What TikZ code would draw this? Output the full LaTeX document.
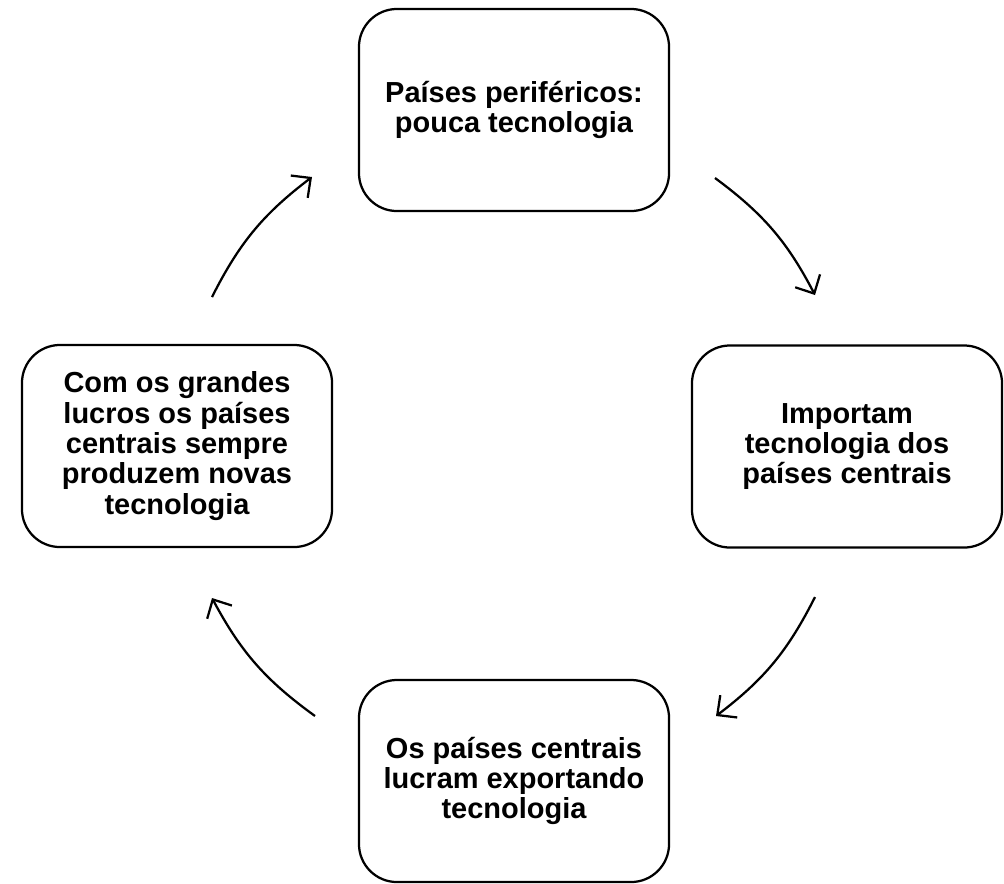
\documentclass[tikz,border=0pt]{standalone}
\usepackage{fontspec}
\setmainfont{Liberation Sans}
\usetikzlibrary{arrows.meta}
\tikzset{
	etapa/.style={draw, line width=1.6pt, rounded corners=0.95cm, minimum width=7.75cm, minimum height=5.05cm, inner sep=0pt, align=center, font=\fontsize{20.6}{21.6}\selectfont\bfseries},
	ciclo/.style={line width=1.6pt, -{Straight Barb[length=3.6mm,width=7mm]}},
}
\begin{document}
\begin{tikzpicture}[x=0.025cm, y=-0.025cm]
	\useasboundingbox (0,0) rectangle (1004,883);
	\node[etapa] (perif) at (514,110) {Países periféricos:\\pouca tecnologia};
	\node[etapa] (import) at (847,446.5) {Importam\\tecnologia dos\\países centrais};
	\node[etapa] (export) at (514,781) {Os países centrais\\lucram exportando\\tecnologia};
	\node[etapa] (lucro) at (177,446) {Com os grandes\\lucros os países\\centrais sempre\\produzem novas\\tecnologia};
	
	\coordinate (a1) at (715,178);
	\coordinate (b1) at (815,295);
	\coordinate (a2) at (815,597);
	\coordinate (b2) at (716,716);
	\coordinate (a3) at (315,716);
	\coordinate (b3) at (212,598);
	\coordinate (a4) at (212,297);
	\coordinate (b4) at (312,177);
	\path[ciclo]
	(a1) edge [bend left=13] (b1)
	(a2) edge [bend left=13] (b2)
	(a3) edge [bend left=13] (b3)
	(a4) edge [bend left=13] (b4);
\end{tikzpicture}
\end{document}
